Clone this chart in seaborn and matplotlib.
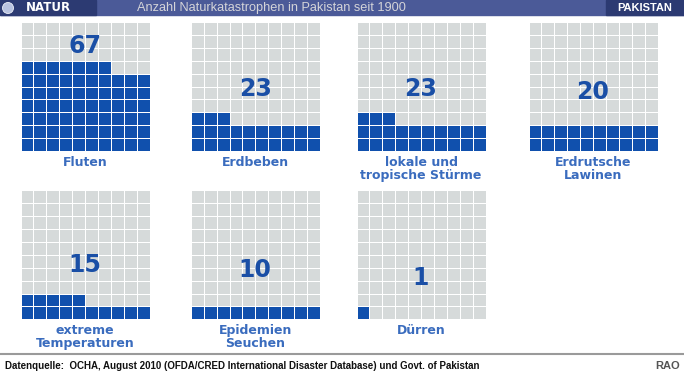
import numpy as np
import matplotlib
matplotlib.use("Agg")
import matplotlib.pyplot as plt
from matplotlib.colors import ListedColormap
from matplotlib.patches import Rectangle, Ellipse
from matplotlib import font_manager
import seaborn as sns

# ---- data ----
categories = ["Fluten", "Erdbeben", "lokale und\ntropische Stürme", "Erdrutsche\nLawinen",
              "extreme\nTemperaturen", "Epidemien\nSeuchen", "Dürren"]
counts = [67, 23, 23, 20, 15, 10, 1]
title = "Anzahl Naturkatastrophen in Pakistan seit 1900"
source = "Datenquelle:  OCHA, August 2010 (OFDA/CRED International Disaster Database) und Govt. of Pakistan"

sns.set_theme(style="white")
plt.rcParams['font.family'] = ['DejaVu Sans']

W, H = 684, 374
fig = plt.figure(figsize=(W / 100, H / 100), dpi=100)


def has_font(name):
    try:
        font_manager.findfont(font_manager.FontProperties(family=name), fallback_to_default=False)
        return True
    except Exception:
        return False


narrow = has_font("Liberation Sans Narrow")

BLUE = "#1050ad"
GREY = "#d6dada"
NUM = "#1a4fa6"
LAB = "#3a6cbe"


def fx(x):
    return x / W


def fy(y):
    return 1 - y / H


# ---- header ----
fig.patches.append(Rectangle((0, fy(15)), 1, 15 / H, transform=fig.transFigure,
                             color="#4b5a98", zorder=0))
fig.patches.append(Rectangle((0, fy(15)), fx(96), 15 / H, transform=fig.transFigure,
                             color="#2c3a72", zorder=1))
fig.patches.append(Rectangle((fx(606), fy(15)), fx(78), 15 / H, transform=fig.transFigure,
                             color="#2c3a72", zorder=1))
fig.patches.append(Ellipse((fx(8), fy(8)), 11 / W, 11 / H, transform=fig.transFigure,
                           facecolor="#b9c3e0", edgecolor="#eef0f8", lw=0.6, zorder=2))
fig.text(fx(26), fy(7.8), "NATUR", color="white", fontsize=8.5, fontweight="bold",
         ha="left", va="center", family="DejaVu Sans")
if narrow:
    fig.text(fx(271), fy(7.5), title, color="#d4d4d8", fontsize=11,
             ha="center", va="center", family="Liberation Sans Narrow")
else:
    fig.text(fx(271), fy(7.5), title, color="#d4d4d8", fontsize=9.2,
             ha="center", va="center", family="Liberation Sans")
fig.text(fx(645), fy(7.8), "PAKISTAN", color="white", fontsize=8, fontweight="bold",
         ha="center", va="center", family="Liberation Sans")

# ---- waffles ----
lefts = [20.5, 190.8, 356.5, 528.5, 20.5, 190.8, 356.5]
tops = [22.0, 22.0, 22.0, 22.0, 190.3, 190.3, 190.3]
size = 129.0
cmap = ListedColormap([GREY, BLUE])

for cat, n, lx, ty in zip(categories, counts, lefts, tops):
    ax = fig.add_axes([fx(lx), fy(ty + size), size / W, size / H])
    mat = np.zeros((10, 10))
    for k in range(n):
        mat[9 - k // 10, k % 10] = 1
    sns.heatmap(mat, ax=ax, cmap=cmap, vmin=0, vmax=1, cbar=False,
                linewidths=0.6, linecolor="white",
                xticklabels=False, yticklabels=False)
    ax.tick_params(left=False, bottom=False)
    empty = 100 - n
    ylab = empty / 100 * 7.5 - 0.6
    ax.text(5, ylab, str(n), ha="center", va="center", fontsize=17,
            fontweight="bold", color=NUM, family="DejaVu Sans")
    ax.text(5, 10.35, cat, ha="center", va="top", fontsize=9,
            fontweight="bold", color=LAB, family="DejaVu Sans",
            linespacing=1.0, clip_on=False)

# ---- footer ----
fig.add_artist(plt.Line2D([0, 1], [fy(354), fy(354)], transform=fig.transFigure,
                          color="#9a9a9a", lw=1.5))
if narrow:
    fig.text(fx(5), fy(366), source, fontsize=8.4, fontweight="bold", color="#111111",
             ha="left", va="center", family="Liberation Sans Narrow")
else:
    fig.text(fx(5), fy(366), source, fontsize=7.05, fontweight="bold", color="#111111",
             ha="left", va="center", family="Liberation Sans")
fig.text(fx(680), fy(366), "RAO", fontsize=8, fontweight="bold", color="#555555",
         ha="right", va="center", family="Liberation Sans")

fig.savefig("out.png", dpi=100)
